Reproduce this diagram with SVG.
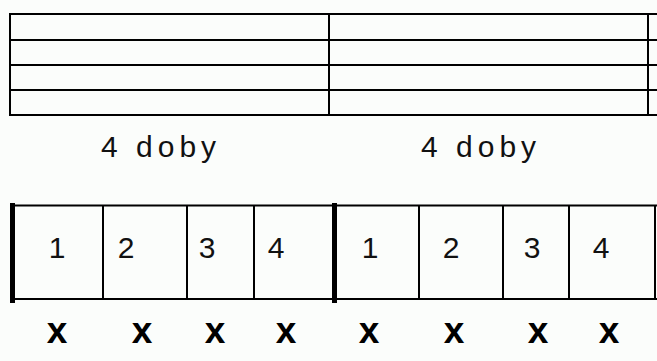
<svg xmlns="http://www.w3.org/2000/svg" width="657" height="361" viewBox="0 0 657 361">
<style>
.ln{stroke:#000;stroke-width:2;fill:none}
.bar{stroke:#000;stroke-width:5;fill:none}
.lbl{font-family:"Liberation Sans",Arial,sans-serif;font-size:30px;fill:#111;letter-spacing:5px}
.num{font-family:"Liberation Sans",Arial,sans-serif;font-size:30px;fill:#111;text-anchor:middle}
.x{font-family:"Liberation Sans",Arial,sans-serif;font-size:37px;font-weight:bold;fill:#000;text-anchor:middle}
</style>
<rect width="657" height="361" fill="#fbfdfb"/>
<g id="staff">
<path class="ln" d="M10 14H657M10 40H657M10 65H657M10 90H657M10 115H657M10 13V116M329 13V116M648 13V116"/>
</g>
<g id="labels">
<text class="lbl" x="101" y="157">4 doby</text>
<text class="lbl" x="421" y="157">4 doby</text>
</g>
<g id="measures">
<path class="ln" d="M12 205.5H657M12 299H657M103 205V300M187 205V300M254 205V300M419 205V300M503 205V300M569 205V300M655 205V300"/>
<path class="bar" d="M12.5 203V303M334.5 203V303"/>
<text class="num" x="57" y="258">1</text>
<text class="num" x="126" y="258">2</text>
<text class="num" x="207" y="258">3</text>
<text class="num" x="276" y="258">4</text>
<text class="num" x="370" y="258">1</text>
<text class="num" x="451" y="258">2</text>
<text class="num" x="532" y="258">3</text>
<text class="num" x="601" y="258">4</text>
</g>
<g id="beats">
<text class="x" x="57" y="343">x</text>
<text class="x" x="142" y="343">x</text>
<text class="x" x="215" y="343">x</text>
<text class="x" x="286" y="343">x</text>
<text class="x" x="369" y="343">x</text>
<text class="x" x="454" y="343">x</text>
<text class="x" x="538" y="343">x</text>
<text class="x" x="609" y="343">x</text>
</g>
</svg>
